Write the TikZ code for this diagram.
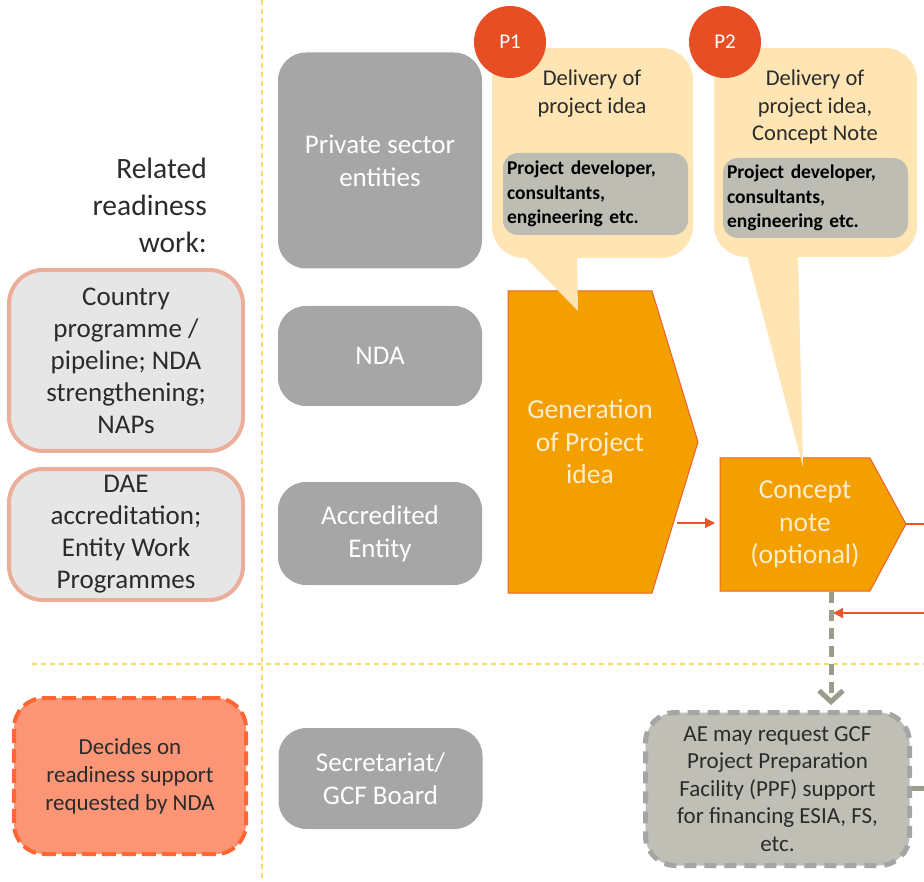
\documentclass[tikz,border=0pt]{standalone}
\usepackage{fontspec}
\setmainfont{Carlito}
\usetikzlibrary{arrows.meta}

\definecolor{laneyellow}{HTML}{FFD966}
\definecolor{actorgray}{HTML}{A6A6A6}
\definecolor{readyfill}{HTML}{E7E6E6}
\definecolor{readyline}{HTML}{EBAE9A}
\definecolor{decidefill}{HTML}{FB9576}
\definecolor{decideline}{HTML}{FF6633}
\definecolor{bubblefill}{HTML}{FFE4B4}
\definecolor{pfill}{HTML}{E84E24}
\definecolor{innerfill}{HTML}{BDBDB4}
\definecolor{stepfill}{HTML}{F39F00}
\definecolor{stepline}{HTML}{EE6030}
\definecolor{steptext}{HTML}{FDEECB}
\definecolor{flowred}{HTML}{E8562A}
\definecolor{ppffill}{HTML}{BFBFB6}
\definecolor{ppfline}{HTML}{A5A5A5}
\definecolor{ppfarrow}{HTML}{9C9C8C}
\definecolor{darktext}{HTML}{2B2B2B}

\begin{document}
\begin{tikzpicture}[x=1pt,y=-1pt,
  lane/.style={draw=laneyellow, line width=1.5pt, dash pattern=on 5pt off 4pt},
  actor/.style={fill=actorgray, rounded corners=28pt, text=white, align=center,
    inner sep=0pt, minimum width=204pt, font=\fontsize{27}{33}\selectfont},
  ready/.style={fill=readyfill, draw=readyline, line width=4pt, rounded corners=34pt,
    align=center, text=darktext, inner sep=0pt, minimum width=234pt,
    font=\fontsize{27}{32}\selectfont},
  decide/.style={fill=decidefill, draw=decideline, line width=4pt, rounded corners=30pt,
    dash pattern=on 14pt off 6pt, align=center, text=darktext, inner sep=0pt,
    font=\fontsize{23}{28}\selectfont},
  bubble/.style={fill=bubblefill},
  pcircle/.style={circle, fill=pfill, text=white, minimum size=72pt, inner sep=0pt,
    font=\fontsize{21}{22}\selectfont},
  bubbletext/.style={align=center, text=darktext, inner sep=0pt,
    font=\fontsize{22.5}{28}\selectfont},
  innerbox/.style={fill=innerfill, rounded corners=15pt, align=left, text=black,
    text width=177pt, inner xsep=4pt, inner ysep=0pt,
    font=\fontsize{19.5}{24.5}\selectfont\bfseries},
  pentagon/.style={fill=stepfill, draw=stepline, line width=1pt},
  steptxt/.style={align=center, text=steptext, inner sep=0pt,
    font=\fontsize{27.5}{32.5}\selectfont},
  redarrow/.style={draw=flowred, line width=1.3pt, -{Triangle[length=10pt,width=10pt]}},
  redline/.style={draw=flowred, line width=1.3pt},
  grayarrow/.style={draw=ppfarrow, line width=5pt, dash pattern=on 11pt off 7pt,
    -{Straight Barb[length=11pt,width=24pt,line width=5pt]}},
  ppf/.style={fill=ppffill, draw=ppfline, line width=5pt, rounded corners=30pt,
    dash pattern=on 12pt off 8pt, align=center, text=darktext, inner sep=0pt,
    font=\fontsize{23}{27.5}\selectfont}
]
\useasboundingbox (0,0) rectangle (924,882);

% swim lane separators
\coordinate (laneTop) at (262,0);
\coordinate (laneBot) at (262,882);
\coordinate (rowL) at (32,664);
\coordinate (rowR) at (924,664);
\draw[lane] (laneTop) -- (laneBot);
\draw[lane] (rowL) -- (rowR);

% left column: readiness work
\node[anchor=east, align=right, text=darktext, inner sep=0pt,
  font=\fontsize{29.5}{37}\selectfont] (related) at (207,205) {Related\\readiness\\work:};
\node[ready, minimum height=181pt] (country) at (126,360.5)
  {Country\\programme /\\pipeline; NDA\\strengthening;\\NAPs};
\node[ready, minimum height=131pt] (dae) at (126,534.5)
  {DAE\\accreditation;\\Entity Work\\Programmes};
\node[decide, minimum width=232pt, minimum height=156pt] (decides) at (130,776)
  {Decides on\\readiness support\\requested by NDA};

% actors
\node[actor, minimum height=216pt] (pse) at (380,160.5) {Private sector\\entities};
\node[actor, minimum height=100pt] (nda) at (380,356) {NDA};
\node[actor, minimum height=103pt] (ae) at (380,533.5) {Accredited\\Entity};
\node[actor, minimum height=101pt] (sec) at (380.5,778.5) {Secretariat/\\GCF Board};

% process steps
\draw[pentagon] (508,291) -- (652,291) -- (698,442) -- (652,593) -- (508,593) -- cycle;
\node[steptxt] (gen) at (590,442) {Generation\\of Project\\idea};
\draw[pentagon] (720,458) -- (870,458) -- (906,524) -- (870,591) -- (720,591) -- cycle;
\node[steptxt] (cn) at (805,524.5) {Concept\\note\\(optional)};

% flow connectors
\coordinate (genOut) at (677,523);
\coordinate (cnIn) at (715,523);
\coordinate (cnTip) at (906,524);
\coordinate (cnOutEnd) at (924,524);
\coordinate (backStart) at (924,613);
\coordinate (backEnd) at (833,613);
\coordinate (cnBottom) at (831,592);
\draw[redarrow] (genOut) -- (cnIn);
\draw[redline] (cnTip) -- (cnOutEnd);
\draw[redarrow] (backStart) -- (backEnd);

% PPF request
\node[ppf, minimum width=264pt, minimum height=153pt] (ppf) at (777.5,789)
  {AE may request GCF\\Project Preparation\\Facility (PPF) support\\for financing ESIA, FS,\\etc.};
\coordinate (ppfIn) at (831,705);
\coordinate (ppfOutEnd) at (924,788);
\draw[grayarrow] (cnBottom) -- (ppfIn);
\draw[draw=ppfarrow, line width=5pt] (ppf.east |- ppfOutEnd) -- (ppfOutEnd);

% callout P1
\fill[bubble, rounded corners=32pt] (492,48) rectangle (693,258);
\fill[bubble] (524,256) -- (578,311) -- (577,256) -- cycle;
\node[bubbletext] (b1) at (592,94) {Delivery of\\project idea};
\node[innerbox, minimum height=82pt] (who1) at (595.5,194)
  {Project developer,\\consultants,\\engineering etc.};
\node[pcircle] (p1) at (510,42) {P1};

% callout P2
\fill[bubble, rounded corners=32pt] (714,48) rectangle (917,257);
\fill[bubble] (747,255) -- (803,467) -- (798,255) -- cycle;
\node[bubbletext, font=\fontsize{22.5}{27.5}\selectfont] (b2) at (815,107.5)
  {Delivery of\\project idea,\\Concept Note};
\node[innerbox, minimum height=80pt] (who2) at (815.5,198)
  {Project developer,\\consultants,\\engineering etc.};
\node[pcircle] (p2) at (725,42) {P2};
\end{tikzpicture}
\end{document}
